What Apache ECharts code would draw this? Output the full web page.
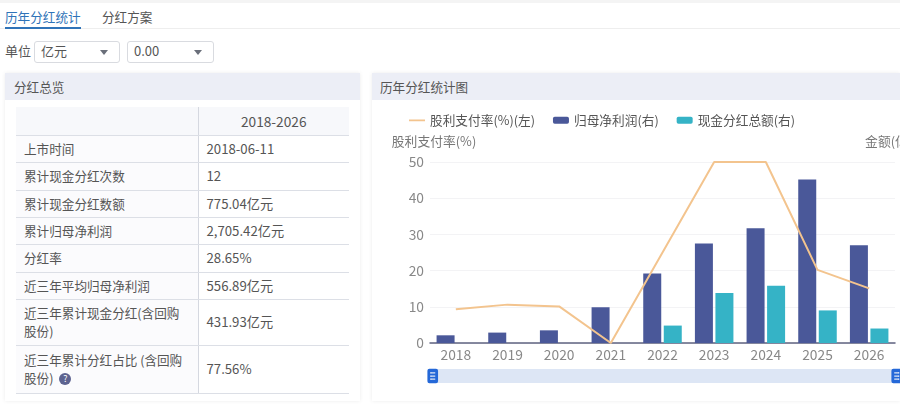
<!DOCTYPE html>
<html><head><meta charset="utf-8">
<script src="https://cdn.jsdelivr.net/npm/echarts@6/dist/echarts.min.js"></script>
<style>
html,body{margin:0;padding:0;width:900px;height:408px;overflow:hidden;background:#fff;font-family:"Noto Sans CJK SC","Noto Sans",sans-serif;color:#555;font-size:12.6px}
.abs{position:absolute;white-space:nowrap}
#topstrip{left:0;top:0;width:900px;height:3px;background:#f4f4f4}
#tabline{left:0;top:28px;width:900px;height:1px;background:#eeeeee}
#tabunder{left:5px;top:27px;width:76px;height:2px;background:#2f73b8}
.sel{height:20px;border:1px solid #d9dbe0;border-radius:3px;line-height:18px;box-sizing:content-box;color:#555;font-size:13px}
.sel span{position:absolute;left:6px}
.sel i{position:absolute;right:11px;top:8px;border-left:4px solid transparent;border-right:4px solid transparent;border-top:5px solid #6a6f7a}
.panel{top:73px;height:328px;background:#fff;box-shadow:0 0 4px rgba(0,0,0,.08)}
.phead{left:0;top:0;right:0;height:27px;line-height:27px;background:#eceef6;position:absolute;color:#555}
#tbl{position:absolute;left:16px;top:107px;width:333px;border-collapse:collapse;table-layout:fixed;font-size:12.6px;line-height:18px}
#tbl td{border-bottom:1px solid #dcdfe6;padding:0 0 0 8px;box-sizing:border-box}
#tbl td:first-child{width:182px;border-right:1px solid #d5d8e0;background:#fbfbfd}
#tbl tr:first-child td{background:#f7f8fb;text-align:center;font-size:13.7px;padding:0}
#tbl td:last-child{font-size:13.2px}
#tbl tr:first-child td:last-child{font-size:13.7px}
#q{display:inline-block;width:12px;height:12px;border-radius:50%;background:#5d6390;color:#fff;font-size:9px;line-height:12px;text-align:center;margin-left:6px;vertical-align:1px}
#chart{position:absolute;left:370px;top:100px;width:600px;height:300px}
</style></head><body>
<div class="abs" id="topstrip"></div>
<div class="abs" style="left:5px;top:7px;color:#2f73b8" id="t1"></div>
<div class="abs" style="left:102px;top:7px" id="t2"></div>
<div class="abs" id="tabline"></div><div class="abs" id="tabunder"></div>
<div class="abs" style="left:5px;top:41px;font-size:13px" id="unitLabel"></div>
<div class="abs sel" style="left:34px;top:41px;width:84px"><span id="s1"></span><i></i></div>
<div class="abs sel" style="left:127px;top:41px;width:85px"><span id="s2"></span><i></i></div>
<div class="abs panel" style="left:5px;width:355px"><div class="phead" style="padding-left:9px" id="h1"></div></div>
<div class="abs panel" style="left:372px;width:528px"><div class="phead" style="padding-left:8px" id="h2"></div></div>
<table id="tbl"></table>
<div id="chart"></div>
<script>
var categories = ['2018','2019','2020','2021','2022','2023','2024','2025','2026'];
var payoutRatio = [9.3,10.6,10.1,0,25,50,50,20.2,15.1];
var netProfit = [34,46,56,158,307,440,507,723,432];
var cashDividend = [0,0,0,0,77,221,253,144,64];
var seriesNames = ['股利支付率(%)(左)','归母净利润(右)','现金分红总额(右)'];
var rowLabels = ['上市时间','累计现金分红次数','累计现金分红数额','累计归母净利润','分红率','近三年平均归母净利润','近三年累计现金分红(含回购<br>股份)','近三年累计分红占比 (含回购<br>股份)<span id="q">?</span>'];
var rowValues = ['2018-06-11','12','775.04亿元','2,705.42亿元','28.65%','556.89亿元','431.93亿元','77.56%'];
var rowHeights = [28,27,28,27,27,28,27,46,48];

document.getElementById('t1').textContent='历年分红统计';
document.getElementById('t2').textContent='分红方案';
document.getElementById('unitLabel').textContent='单位';
document.getElementById('s1').textContent='亿元';
document.getElementById('s2').textContent='0.00';
document.getElementById('h1').textContent='分红总览';
document.getElementById('h2').textContent='历年分红统计图';
var html='<tr style="height:'+rowHeights[0]+'px"><td></td><td>2018-2026</td></tr>';
rowLabels.forEach(function(l,i){html+='<tr style="height:'+rowHeights[i+1]+'px"><td>'+l+'</td><td>'+rowValues[i]+'</td></tr>';});
document.getElementById('tbl').innerHTML=html;

var font='"Noto Sans CJK SC","Noto Sans",sans-serif';
var handle='path://M2,0H8.6A2,2 0 0 1 10.6,2V12.5A2,2 0 0 1 8.6,14.5H2A2,2 0 0 1 0,12.5V2A2,2 0 0 1 2,0ZM2.8,3.5V4.7H7.8V3.5ZM2.8,6.6V7.8H7.8V6.6ZM2.8,9.7V10.9H7.8V9.7Z';
var lineIcon='path://M0,0H0.01V0.01H0ZM0,2.6H16V4.4H0ZM0,6.99H0.01V7H0Z';
var chart=echarts.init(document.getElementById('chart'),null,{renderer:'canvas'});
chart.setOption({
  animation:false,
  textStyle:{fontFamily:font},
  legend:{left:39,top:14,padding:0,itemWidth:16,itemHeight:7,itemGap:18,
    textStyle:{fontSize:12.7,color:'#555',fontFamily:font},
    data:[{name:seriesNames[0],icon:lineIcon},{name:seriesNames[1]},{name:seriesNames[2]}]},
  grid:{left:60,top:62,width:465,height:181},
  xAxis:{type:'category',data:categories,
    axisLine:{lineStyle:{color:'#5f6380',width:1.5}},axisTick:{show:false},
    axisLabel:{color:'#888',fontSize:13.8,margin:5,fontFamily:font}},
  yAxis:[
    {type:'value',min:0,max:50,interval:10,name:'股利支付率(%)',nameLocation:'end',nameGap:14,
     nameTextStyle:{color:'#777',fontSize:12.8,fontFamily:font,padding:[0,0,0,8]},
     axisLine:{show:false},axisTick:{show:false},
     axisLabel:{color:'#888',fontSize:13.8,margin:6,fontFamily:font},
     splitLine:{lineStyle:{color:'#f3f3f5'}}},
    {type:'value',min:0,max:800,interval:160,name:'金额(亿元)',nameLocation:'end',nameGap:14,
     nameTextStyle:{color:'#777',fontSize:12.8,fontFamily:font},
     axisLine:{show:false},axisTick:{show:false},
     axisLabel:{color:'#888',fontSize:13.8,margin:16,fontFamily:font},
     splitLine:{show:false}}
  ],
  dataZoom:[{type:'slider',xAxisIndex:0,start:0,end:100,left:61,width:466,top:269,height:14,
    backgroundColor:'#dde6f5',borderColor:'transparent',fillerColor:'#dde6f5',
    dataBackground:{lineStyle:{opacity:0},areaStyle:{opacity:0}},
    selectedDataBackground:{lineStyle:{opacity:0},areaStyle:{opacity:0}},
    handleIcon:handle,handleSize:'104%',handleStyle:{color:'#2468d8',borderColor:'#2468d8',borderWidth:0},
    moveHandleSize:0,showDetail:false,showDataShadow:false,brushSelect:false}],
  series:[
    {name:seriesNames[0],type:'line',yAxisIndex:0,data:payoutRatio,showSymbol:false,symbol:'none',z:5,
     itemStyle:{color:'#f3c48e'},lineStyle:{color:'#f3c48e',width:2}},
    {name:seriesNames[1],type:'bar',yAxisIndex:1,data:netProfit,barWidth:18,barGap:'14%',
     itemStyle:{color:'#4a5899'}},
    {name:seriesNames[2],type:'bar',yAxisIndex:1,data:cashDividend,barWidth:18,barGap:'14%',
     itemStyle:{color:'#35b3c6'}}
  ]
});
</script>
</body></html>
